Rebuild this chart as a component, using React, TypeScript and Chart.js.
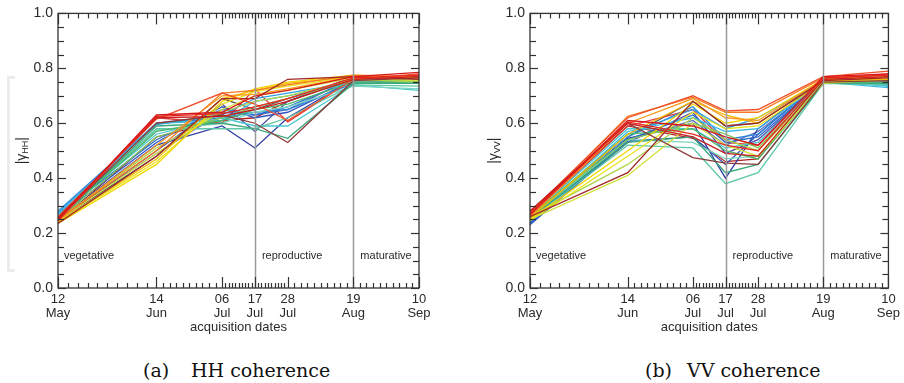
import React, { useEffect, useRef } from "react";
import { Chart, registerables } from "chart.js";

Chart.register(...registerables);

// Days after 12 May for each acquisition date
const dayOffsets = [0, 33, 55, 66, 77, 99, 121];
const dayLabels = ["12", "14", "06", "17", "28", "19", "10"];
const monthLabels = ["May", "Jun", "Jul", "Jul", "Jul", "Aug", "Sep"];
const phaseNames = ["vegetative", "reproductive", "maturative"];
const phaseStarts = [0, 66, 99];
const phaseBoundaries = [66, 99];
const yTickValues = [0, 0.2, 0.4, 0.6, 0.8, 1.0];

const seriesColors = [
  "#d7191c", "#e8281e", "#c81e1e", "#f0502a", "#a0282a", "#8b3a3a",
  "#f57c1f", "#f79a1e", "#f5b800", "#f2d600", "#e8e31a", "#d4e03a",
  "#b0d449", "#7fc65a", "#4cb66a", "#3aa87a", "#5ec8a8", "#7ad6c0",
  "#48c7d2", "#3ab8e6", "#2fa0e0", "#2b86d8", "#2a6ccc", "#2f54c0",
  "#3040a8", "#4a4aa8", "#5b6abf", "#e03a3a", "#555555", "#b22222",
];

// HH coherence per field: [12 May, 14 Jun, 06 Jul, 17 Jul, 28 Jul, 19 Aug, 10 Sep]
const hhValues = [
  [0.25, 0.63, 0.64, 0.70, 0.72, 0.77, 0.785],
  [0.245, 0.625, 0.635, 0.66, 0.69, 0.765, 0.775],
  [0.255, 0.62, 0.625, 0.65, 0.68, 0.76, 0.77],
  [0.26, 0.615, 0.71, 0.67, 0.61, 0.76, 0.78],
  [0.235, 0.48, 0.69, 0.69, 0.76, 0.77, 0.76],
  [0.25, 0.60, 0.63, 0.60, 0.53, 0.755, 0.765],
  [0.25, 0.50, 0.71, 0.72, 0.74, 0.775, 0.77],
  [0.245, 0.52, 0.70, 0.705, 0.725, 0.77, 0.765],
  [0.24, 0.47, 0.69, 0.72, 0.745, 0.77, 0.77],
  [0.235, 0.45, 0.68, 0.725, 0.75, 0.775, 0.765],
  [0.24, 0.46, 0.67, 0.715, 0.735, 0.77, 0.76],
  [0.245, 0.49, 0.65, 0.70, 0.72, 0.765, 0.755],
  [0.25, 0.51, 0.64, 0.68, 0.70, 0.76, 0.75],
  [0.25, 0.55, 0.62, 0.66, 0.69, 0.755, 0.755],
  [0.255, 0.57, 0.61, 0.65, 0.67, 0.75, 0.75],
  [0.25, 0.59, 0.60, 0.58, 0.545, 0.745, 0.745],
  [0.255, 0.58, 0.58, 0.58, 0.62, 0.74, 0.735],
  [0.26, 0.575, 0.60, 0.64, 0.66, 0.735, 0.725],
  [0.265, 0.56, 0.62, 0.59, 0.59, 0.74, 0.72],
  [0.27, 0.60, 0.61, 0.68, 0.70, 0.745, 0.745],
  [0.275, 0.595, 0.63, 0.69, 0.71, 0.75, 0.75],
  [0.28, 0.60, 0.62, 0.64, 0.65, 0.745, 0.755],
  [0.27, 0.54, 0.65, 0.63, 0.66, 0.76, 0.76],
  [0.26, 0.53, 0.66, 0.62, 0.64, 0.755, 0.75],
  [0.25, 0.52, 0.59, 0.51, 0.62, 0.76, 0.755],
  [0.245, 0.50, 0.67, 0.57, 0.68, 0.77, 0.76],
  [0.25, 0.49, 0.64, 0.63, 0.65, 0.765, 0.745],
  [0.24, 0.62, 0.60, 0.725, 0.605, 0.76, 0.775],
  [0.245, 0.48, 0.69, 0.65, 0.69, 0.76, 0.765],
  [0.24, 0.55, 0.61, 0.62, 0.68, 0.765, 0.76],
];

// VV coherence per field
const vvValues = [
  [0.27, 0.61, 0.59, 0.55, 0.52, 0.77, 0.78],
  [0.265, 0.605, 0.56, 0.52, 0.50, 0.765, 0.775],
  [0.28, 0.60, 0.55, 0.49, 0.48, 0.76, 0.77],
  [0.275, 0.62, 0.70, 0.645, 0.65, 0.77, 0.79],
  [0.26, 0.42, 0.68, 0.59, 0.60, 0.755, 0.765],
  [0.28, 0.60, 0.475, 0.455, 0.45, 0.75, 0.755],
  [0.27, 0.625, 0.695, 0.64, 0.64, 0.765, 0.775],
  [0.26, 0.60, 0.69, 0.62, 0.61, 0.76, 0.77],
  [0.255, 0.56, 0.68, 0.63, 0.60, 0.755, 0.76],
  [0.25, 0.50, 0.67, 0.60, 0.62, 0.76, 0.765],
  [0.245, 0.48, 0.64, 0.58, 0.59, 0.75, 0.76],
  [0.25, 0.41, 0.60, 0.52, 0.48, 0.745, 0.76],
  [0.26, 0.45, 0.62, 0.54, 0.50, 0.75, 0.755],
  [0.265, 0.54, 0.60, 0.56, 0.51, 0.755, 0.76],
  [0.26, 0.56, 0.58, 0.50, 0.47, 0.75, 0.75],
  [0.255, 0.53, 0.55, 0.42, 0.45, 0.745, 0.745],
  [0.25, 0.52, 0.51, 0.38, 0.42, 0.745, 0.74],
  [0.255, 0.54, 0.53, 0.47, 0.48, 0.75, 0.745],
  [0.26, 0.58, 0.58, 0.51, 0.53, 0.755, 0.735],
  [0.25, 0.57, 0.62, 0.57, 0.58, 0.75, 0.73],
  [0.245, 0.56, 0.65, 0.58, 0.62, 0.755, 0.735],
  [0.24, 0.55, 0.66, 0.54, 0.56, 0.76, 0.74],
  [0.235, 0.54, 0.63, 0.53, 0.55, 0.755, 0.745],
  [0.23, 0.535, 0.55, 0.45, 0.56, 0.76, 0.75],
  [0.235, 0.545, 0.60, 0.40, 0.58, 0.76, 0.75],
  [0.24, 0.53, 0.64, 0.49, 0.54, 0.755, 0.745],
  [0.245, 0.54, 0.61, 0.52, 0.57, 0.75, 0.74],
  [0.26, 0.59, 0.65, 0.53, 0.52, 0.76, 0.78],
  [0.25, 0.55, 0.68, 0.59, 0.60, 0.76, 0.75],
  [0.275, 0.59, 0.545, 0.46, 0.47, 0.765, 0.775],
];

const SANS = "'Liberation Sans', Arial, Helvetica, sans-serif";
const TEXT = "#2a2a2a";
const FRAME = "#333333";

type PanelProps = {
  values: number[][];
  sub: string;
  left: number;
  width: number;
  padRight: number;
};

function makeFramePlugin(sub: string) {
  return {
    id: "idlFrame",
    afterDraw(chart: any) {
      const ctx: CanvasRenderingContext2D = chart.ctx;
      const chartArea = chart.chartArea;
      const xs = chart.scales.x;
      const ys = chart.scales.y;
      const { left, right, top, bottom } = chartArea;
      ctx.save();
      // phase boundary lines
      ctx.strokeStyle = "#9a9a9a";
      ctx.lineWidth = 1.5;
      phaseBoundaries.forEach((d) => {
        const px = Math.round(xs.getPixelForValue(d)) + 0.5;
        ctx.beginPath();
        ctx.moveTo(px, top);
        ctx.lineTo(px, bottom);
        ctx.stroke();
      });
      // x ticks (bottom & top)
      ctx.strokeStyle = FRAME;
      ctx.lineWidth = 1.2;
      const xTick = (v: number, len: number) => {
        const px = Math.round(xs.getPixelForValue(v)) + 0.5;
        ctx.beginPath();
        ctx.moveTo(px, bottom);
        ctx.lineTo(px, bottom - len);
        ctx.stroke();
        ctx.beginPath();
        ctx.moveTo(px, top);
        ctx.lineTo(px, top + len);
        ctx.stroke();
      };
      for (let i = 0; i < dayOffsets.length; i++) {
        const d = dayOffsets[i];
        xTick(d, 11);
        if (i < dayOffsets.length - 1) {
          const next = dayOffsets[i + 1];
          for (let k = 1; k < 10; k++) xTick(d + ((next - d) * k) / 10, 5);
        }
      }
      // y ticks (left & right)
      const yTick = (v: number, len: number) => {
        const py = Math.round(ys.getPixelForValue(v)) + 0.5;
        ctx.beginPath();
        ctx.moveTo(left, py);
        ctx.lineTo(left + len, py);
        ctx.stroke();
        ctx.beginPath();
        ctx.moveTo(right, py);
        ctx.lineTo(right - len, py);
        ctx.stroke();
      };
      for (let k = 0; k <= 20; k++) yTick(k * 0.05, k % 4 === 0 ? 8 : 6);
      // frame
      ctx.lineWidth = 1.3;
      ctx.strokeRect(left, top, right - left, bottom - top);
      // phase labels
      ctx.fillStyle = TEXT;
      ctx.font = `11px ${SANS}`;
      ctx.textBaseline = "middle";
      ctx.textAlign = "left";
      const ly = ys.getPixelForValue(0.115);
      phaseNames.forEach((name, i) => {
        const px = xs.getPixelForValue(phaseStarts[i]) + (i === 0 ? 6 : 7);
        ctx.fillText(name, px, ly);
      });
      // y axis title |γ_sub|
      const cy = (top + bottom) / 2;
      ctx.translate(21, cy);
      ctx.rotate(-Math.PI / 2);
      const big = `14px ${SANS}`;
      const small = `9px ${SANS}`;
      ctx.font = big;
      const w1 = ctx.measureText("|\u03B3").width;
      const w3 = ctx.measureText("|").width;
      ctx.font = small;
      const w2 = ctx.measureText(sub).width;
      const x0 = -(w1 + w2 + w3) / 2;
      ctx.textBaseline = "alphabetic";
      ctx.font = big;
      ctx.fillText("|\u03B3", x0, 5);
      ctx.font = small;
      ctx.fillText(sub, x0 + w1, 7);
      ctx.font = big;
      ctx.fillText("|", x0 + w1 + w2, 5);
      ctx.restore();
    },
  };
}

function Panel({ values, sub, left, width, padRight }: PanelProps) {
  const ref = useRef<HTMLCanvasElement | null>(null);
  useEffect(() => {
    if (!ref.current) return;
    const chart = new Chart(ref.current, {
      type: "line",
      data: {
        datasets: values.map((row, i) => ({
          data: row.map((v, j) => ({ x: dayOffsets[j], y: v })),
          borderColor: seriesColors[i % seriesColors.length],
          borderWidth: 1.3,
          pointRadius: 0,
          tension: 0,
          fill: false,
        })),
      },
      options: {
        animation: false,
        responsive: false,
        maintainAspectRatio: false,
        layout: { padding: { top: 13, right: padRight, left: 0, bottom: 0 } },
        plugins: { legend: { display: false }, tooltip: { enabled: false } },
        scales: {
          x: {
            type: "linear",
            min: 0,
            max: 121,
            grid: { display: false, drawTicks: false, tickLength: 0 },
            border: { display: false },
            afterBuildTicks: (s: any) => {
              s.ticks = dayOffsets.map((v) => ({ value: v }));
            },
            afterFit: (s: any) => {
              s.height = 52;
            },
            ticks: {
              autoSkip: false,
              maxRotation: 0,
              minRotation: 0,
              padding: 4,
              color: TEXT,
              font: { family: SANS, size: 13, lineHeight: 1.1 },
              callback: (v: any) => {
                const i = dayOffsets.indexOf(Number(v));
                return i < 0 ? "" : [dayLabels[i], monthLabels[i]];
              },
            },
            title: {
              display: true,
              text: "acquisition dates",
              color: TEXT,
              font: { family: SANS, size: 13 },
              padding: { top: 0, bottom: 5 },
            },
          },
          y: {
            min: 0,
            max: 1,
            grid: { display: false, drawTicks: false, tickLength: 0 },
            border: { display: false },
            afterBuildTicks: (s: any) => {
              s.ticks = yTickValues.map((v) => ({ value: v }));
            },
            afterFit: (s: any) => {
              s.width = 58;
            },
            ticks: {
              padding: 5,
              color: TEXT,
              font: { family: SANS, size: 14 },
              callback: (v: any) => Number(v).toFixed(1),
            },
          },
        },
      },
      plugins: [makeFramePlugin(sub)],
    } as any);
    return () => chart.destroy();
  }, [values, sub, padRight]);
  return (
    <canvas
      ref={ref}
      width={width}
      height={340}
      style={{ position: "absolute", left, top: 0, width, height: 340 }}
    />
  );
}

export default function App() {
  const capStyle: React.CSSProperties = {
    position: "absolute",
    top: 359,
    fontFamily: "'DejaVu Serif', 'Liberation Serif', serif",
    fontSize: 19,
    lineHeight: "22px",
    color: "#111",
    whiteSpace: "nowrap",
  };
  return (
    <div
      style={{
        position: "absolute",
        left: 0,
        top: 0,
        width: 904,
        height: 383,
        background: "#fff",
        overflow: "hidden",
      }}
    >
      <div
        style={{
          position: "absolute",
          left: 7,
          top: 76,
          width: 5,
          height: 190,
          border: "3px solid #ececec",
          borderRight: "none",
        }}
      />
      <Panel values={hhValues} sub="HH" left={0} width={452} padRight={33} />
      <Panel values={vvValues} sub="VV" left={472} width={432} padRight={12} />
      <div style={{ ...capStyle, left: 143 }}>(a)</div>
      <div style={{ ...capStyle, left: 191 }}>HH coherence</div>
      <div style={{ ...capStyle, left: 645 }}>(b)</div>
      <div style={{ ...capStyle, left: 687 }}>VV coherence</div>
    </div>
  );
}
